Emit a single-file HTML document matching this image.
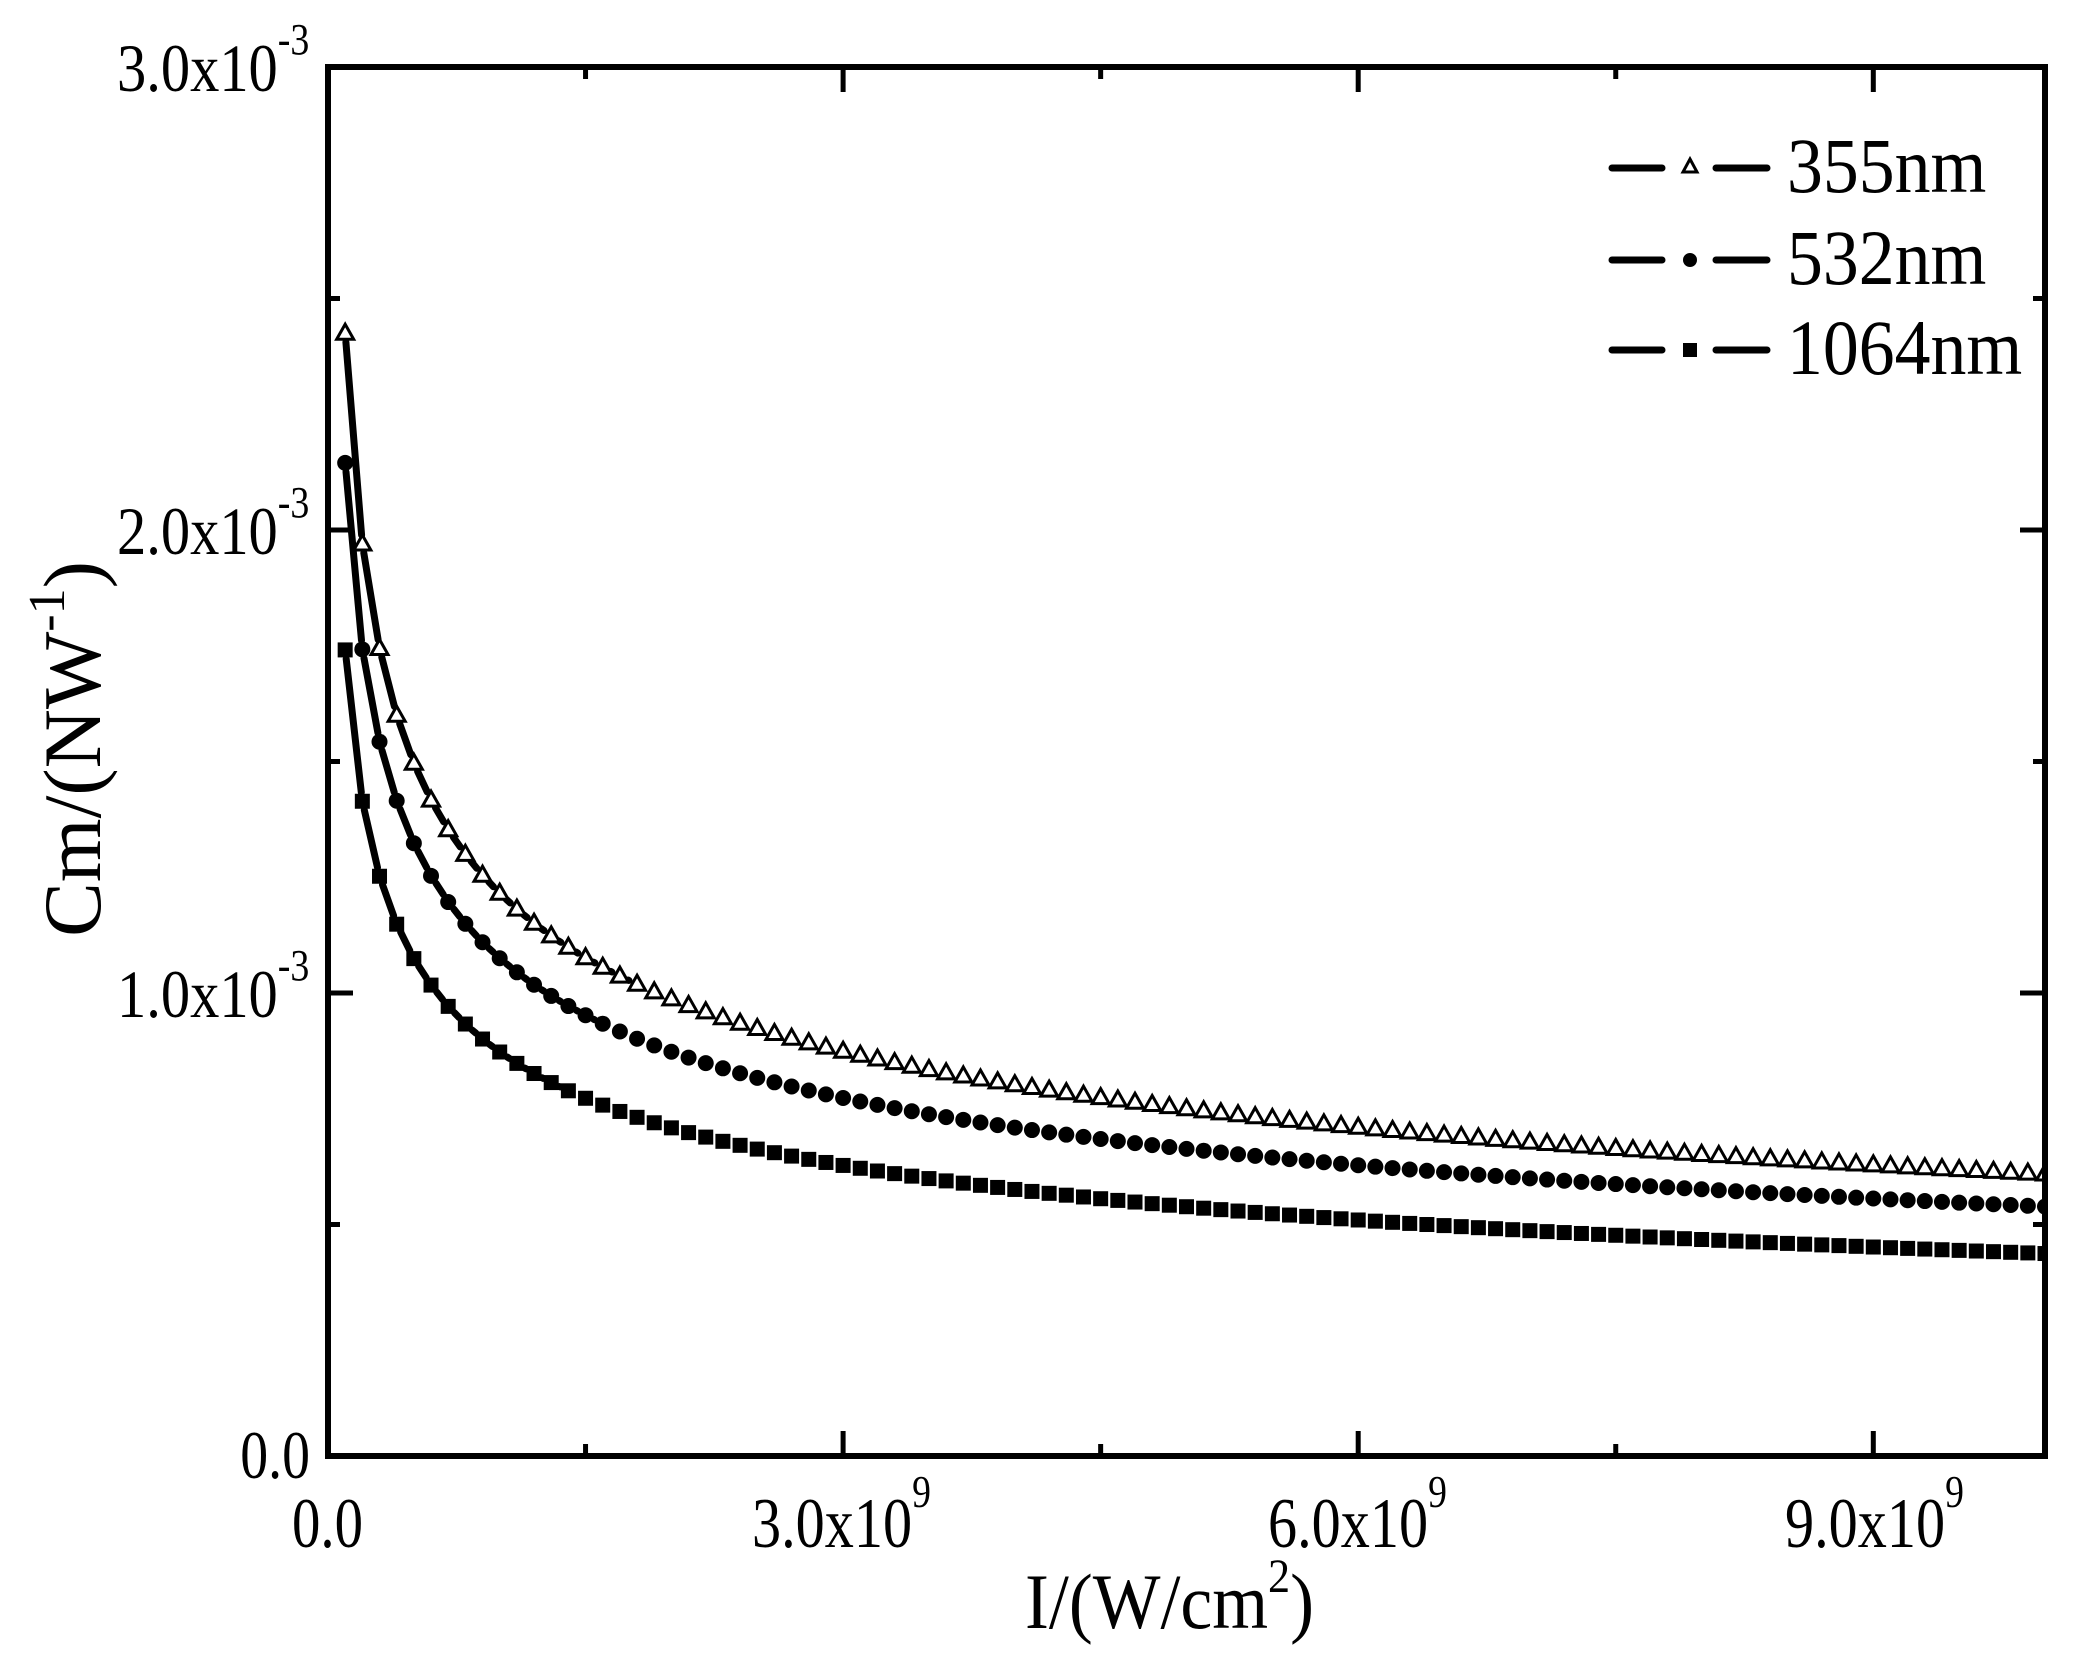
<!DOCTYPE html>
<html><head><meta charset="utf-8"><style>
html,body{margin:0;padding:0;background:#fff;}
svg{display:block;font-family:"Liberation Serif",serif;}
</style></head><body>
<svg id="s" width="2073" height="1666" viewBox="0 0 2073 1666" xmlns="http://www.w3.org/2000/svg">
<rect width="2073" height="1666" fill="#fff"/>
<g id="data"></g>
<rect x="328" y="67" width="1717" height="1389" fill="none" stroke="#000" stroke-width="6"/>
<g id="ticks" stroke="#000" stroke-width="5"></g>
<!-- y tick labels -->
<g font-size="68">
<text transform="translate(117,91) scale(0.86,1)">3.0x10<tspan font-size="44" dy="-37">-3</tspan></text>
<text transform="translate(117,554) scale(0.86,1)">2.0x10<tspan font-size="44" dy="-37">-3</tspan></text>
<text transform="translate(117,1017) scale(0.86,1)">1.0x10<tspan font-size="44" dy="-37">-3</tspan></text>
<text transform="translate(310,1478) scale(0.82,1)" text-anchor="end">0.0</text>
</g>
<!-- x tick labels -->
<g font-size="71">
<text transform="translate(292,1547) scale(0.8,1)">0.0</text>
<text transform="translate(752,1547) scale(0.82,1)">3.0x10<tspan font-size="46" dy="-40">9</tspan></text>
<text transform="translate(1268,1547) scale(0.82,1)">6.0x10<tspan font-size="46" dy="-40">9</tspan></text>
<text transform="translate(1785,1547) scale(0.82,1)">9.0x10<tspan font-size="46" dy="-40">9</tspan></text>
</g>
<text transform="translate(1025,1628) scale(0.92,1)" font-size="78">I/(W/cm<tspan font-size="48" dy="-36">2</tspan><tspan dy="36">)</tspan></text>
<text transform="translate(100,749) rotate(-90)" font-size="82" text-anchor="middle">Cm/(NW<tspan font-size="52" dy="-36">-1</tspan><tspan dy="36">)</tspan></text>
<!-- legend -->
<g stroke="#000" stroke-width="7" stroke-linecap="round">
<line x1="1612" y1="168" x2="1662" y2="168"/><line x1="1716" y1="168" x2="1767" y2="168"/>
<line x1="1612" y1="260" x2="1662" y2="260"/><line x1="1716" y1="260" x2="1767" y2="260"/>
<line x1="1612" y1="350" x2="1662" y2="350"/><line x1="1716" y1="350" x2="1767" y2="350"/>
</g>
<polygon points="1690,159 1697,172 1683,172" fill="#fff" stroke="#000" stroke-width="3"/>
<circle cx="1690" cy="260" r="7" fill="#000"/>
<rect x="1683" y="343" width="14" height="14" fill="#000"/>
<g font-size="78">
<text transform="translate(1787,192) scale(0.92,1)">355nm</text>
<text transform="translate(1787,284) scale(0.92,1)">532nm</text>
<text transform="translate(1787,374) scale(0.92,1)">1064nm</text>
</g>
</svg>
<script>
(function(){
var NS="http://www.w3.org/2000/svg";
var data=document.getElementById("data"), ticks=document.getElementById("ticks");
function el(t,a,p){var e=document.createElementNS(NS,t);for(var k in a)e.setAttribute(k,a[k]);p.appendChild(e);return e;}
var X0=328,X1=2045,Y0=1456,Yt=67;
function px(I){return X0+(I/1e10)*(X1-X0);}
function py(v){return Y0-(v/3e-3)*(Y0-Yt);}
for(var j=1;j<=6;j++){var I=j*1.5e9;var x=px(I);var L=(j%2==0)?25:12;
 el("line",{x1:x,y1:Y0,x2:x,y2:Y0-L},ticks);el("line",{x1:x,y1:Yt,x2:x,y2:Yt+L},ticks);}
for(var j=1;j<=5;j++){var v=j*0.5e-3;var y=py(v);var L=(j%2==0)?25:12;
 el("line",{x1:X0,y1:y,x2:X0+L,y2:y},ticks);el("line",{x1:X1,y1:y,x2:X1-L,y2:y},ticks);}
var cp=el("clipPath",{id:"cp"},data);el("rect",{x:X0,y:Yt,width:X1-X0,height:Y0-Yt},cp);
var g=el("g",{"clip-path":"url(#cp)"},data);
var series=[[2.425e-3,"tri"],[2.145e-3,"cir"],[1.741e-3,"sq"]];
series.forEach(function(s){
 var pts=[];for(var k=1;k<=100;k++){pts.push([px(k*1e8),py(s[0]*Math.pow(k,-0.3))]);}
 var d="";
 for(var k=0;k<pts.length-1;k++){var a=pts[k],b=pts[k+1];var dx=b[0]-a[0],dy=b[1]-a[1];var l=Math.sqrt(dx*dx+dy*dy);var sh=9;
  if(l>2*sh+1){var ux=dx/l,uy=dy/l;d+="M"+(a[0]+ux*sh).toFixed(1)+" "+(a[1]+uy*sh).toFixed(1)+"L"+(b[0]-ux*sh).toFixed(1)+" "+(b[1]-uy*sh).toFixed(1);}}
 el("path",{d:d,stroke:"#000","stroke-width":7,fill:"none","stroke-linecap":"round"},g);
 pts.forEach(function(p){
  if(s[1]=="tri")el("polygon",{points:p[0]+","+(p[1]-9)+" "+(p[0]+8.5)+","+(p[1]+6)+" "+(p[0]-8.5)+","+(p[1]+6),fill:"#fff",stroke:"#000","stroke-width":3},g);
  else if(s[1]=="cir")el("circle",{cx:p[0],cy:p[1],r:8,fill:"#000"},g);
  else el("rect",{x:p[0]-7.5,y:p[1]-7.5,width:15,height:15,fill:"#000"},g);
 });
});
})();
</script>
</body></html>
